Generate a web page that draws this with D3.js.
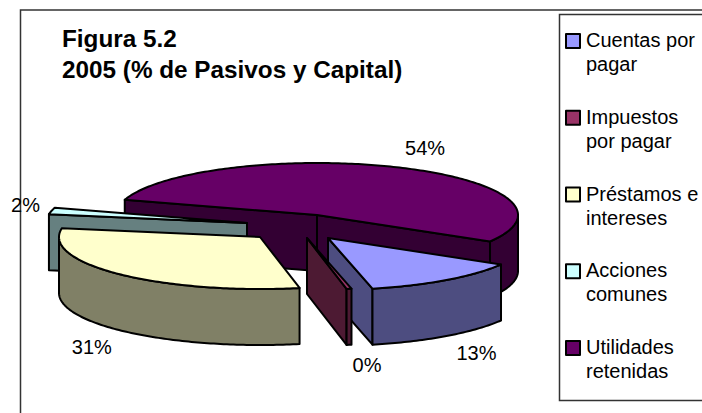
<!DOCTYPE html>
<html>

<head>
    <meta charset="utf-8">
    <style>
        html, body { margin: 0; padding: 0; background: #fff; }
        svg { display: block; }
        text { font-family: "Liberation Sans", Arial, sans-serif; fill: #000; }
        .face { stroke: #000; stroke-width: 2; stroke-linejoin: round; }
        .frame { fill: none; stroke: #333; stroke-width: 1.5; }
    </style>
</head>

<body>
    <svg id="container" width="702" height="413"></svg>
</body>
<script src="https://cdn.jsdelivr.net/npm/d3@7"></script>
<script>
    const categories = ["Cuentas por pagar", "Impuestos por pagar", "Préstamos e intereses", "Acciones comunes", "Utilidades retenidas"]
    const values = [13, 0.4, 31, 2, 54]
    const legendLines = [["Cuentas por", "pagar"], ["Impuestos", "por pagar"], ["Préstamos e", "intereses"], ["Acciones", "comunes"], ["Utilidades", "retenidas"]]
    const titleLines = ["Figura 5.2", "2005 (% de Pasivos y Capital)"]
    const colors = ["#9999ff", "#993366", "#ffffcc", "#ccffff", "#660066"]

    // layout of the pie
    const cx = 317, cy = 215, rx = 201, ry = 52, depth = 56
    const startDeg = 120.6
    const explode = [[11, 23], [-10, 23], [-57, 22], [-70, 8], [0, 0]]   // how far each slice is pulled out
    const labelNudge = [[30, 80], [18, 83], [-28, 80], [-26, 1], [27, -12]]
    const drawOrder = [4, 3, 2, 0, 1]  // back to front

    const svg = d3.select("#container")

    svg.append("path").attr("class", "frame").attr("d", "M20.5,413V10H702")

    let title = svg.append("text").attr("font-weight", "bold").attr("font-size", 24.3)
    titleLines.forEach((t, i) => {
        title.append("tspan").attr("x", 62).attr("y", 47 + i * 31).text(t)
    })

    const slices = d3.pie().sort(null)
        .startAngle(startDeg * Math.PI / 180)
        .endAngle(startDeg * Math.PI / 180 + 2 * Math.PI)(values)

    //pie angles run clockwise from 12 o'clock, squash them onto the ellipse
    const rim = (a, ox, oy) => [ox + rx * Math.sin(a), oy - ry * Math.cos(a)]
    const line = d3.line()

    function arcPoints(a0, a1, ox, oy) {
        let n = Math.max(2, Math.ceil((a1 - a0) * 60))
        return d3.range(n + 1).map(i => rim(a0 + (a1 - a0) * i / n, ox, oy))
    }

    function darker(c) {
        let rgb = d3.rgb(c)
        return d3.rgb(rgb.r / 2, rgb.g / 2, rgb.b / 2).formatHex()
    }

    function radialWall(a, ox, oy) {
        let p = rim(a, ox, oy)
        return [[ox, oy], p, [p[0], p[1] + depth], [ox, oy + depth]]
    }

    const pieG = svg.append("g")

    drawOrder.forEach(i => {
        let s = slices[i]
        let ox = cx + explode[i][0], oy = cy + explode[i][1]
        let g = pieG.append("g")
        let side = darker(colors[i])

        // cut faces, only the ones turned to the viewer
        if (Math.sin(s.startAngle) < 0) {
            g.append("path").attr("class", "face").attr("fill", side)
                .attr("d", line(radialWall(s.startAngle, ox, oy)) + "Z")
        }
        if (Math.sin(s.endAngle) > 0) {
            g.append("path").attr("class", "face").attr("fill", side)
                .attr("d", line(radialWall(s.endAngle, ox, oy)) + "Z")
        }

        // outer wall, front half of the ellipse only. Last slice runs past a full turn
        // so check the front half on both turns
        ;[0, 2 * Math.PI].forEach(turn => {
            let a0 = Math.max(s.startAngle, Math.PI / 2 + turn)
            let a1 = Math.min(s.endAngle, Math.PI * 1.5 + turn)
            if (a1 > a0) {
                let upper = arcPoints(a0, a1, ox, oy)
                let lower = arcPoints(a0, a1, ox, oy + depth).reverse()
                g.append("path").attr("class", "face").attr("fill", side)
                    .attr("d", line(upper.concat(lower)) + "Z")
            }
        })

        // top
        g.append("path").attr("class", "face").attr("fill", colors[i])
            .attr("d", line([[ox, oy]].concat(arcPoints(s.startAngle, s.endAngle, ox, oy))) + "Z")
    })

    // value labels, placed from the slice's mid angle
    svg.append("g").selectAll("text")
        .data(slices)
        .join("text")
        .attr("font-size", 20)
        .attr("text-anchor", "middle")
        .attr("transform", (d, i) => {
            let mid = (d.startAngle + d.endAngle) / 2
            let p = rim(mid, cx + explode[i][0], cy + explode[i][1])
            return "translate(" + (p[0] + labelNudge[i][0]) + "," + (p[1] + labelNudge[i][1]) + ")"
        })
        .text(d => d3.format(".0f")(d.value) + "%")

    // legend
    svg.append("rect").attr("class", "frame")
        .attr("x", 559.5).attr("y", 14.5).attr("width", 160).attr("height", 386)
        .attr("stroke-width", 1)

    const legendY = d3.scalePoint().domain(categories).range([41, 348])

    let legend = svg.append("g").selectAll("g")
        .data(categories)
        .join("g")
        .attr("transform", d => "translate(566," + legendY(d) + ")")

    legend.append("rect")
        .attr("class", "face")
        .attr("x", 0).attr("y", -7).attr("width", 14).attr("height", 14)
        .attr("fill", (d, i) => colors[i])

    legend.append("text")
        .attr("font-size", 20)
        .selectAll("tspan")
        .data((d, i) => legendLines[i])
        .join("tspan")
        .attr("x", 20)
        .attr("y", (d, i) => 6 + i * 24)
        .text(d => d)
</script>

</html>
